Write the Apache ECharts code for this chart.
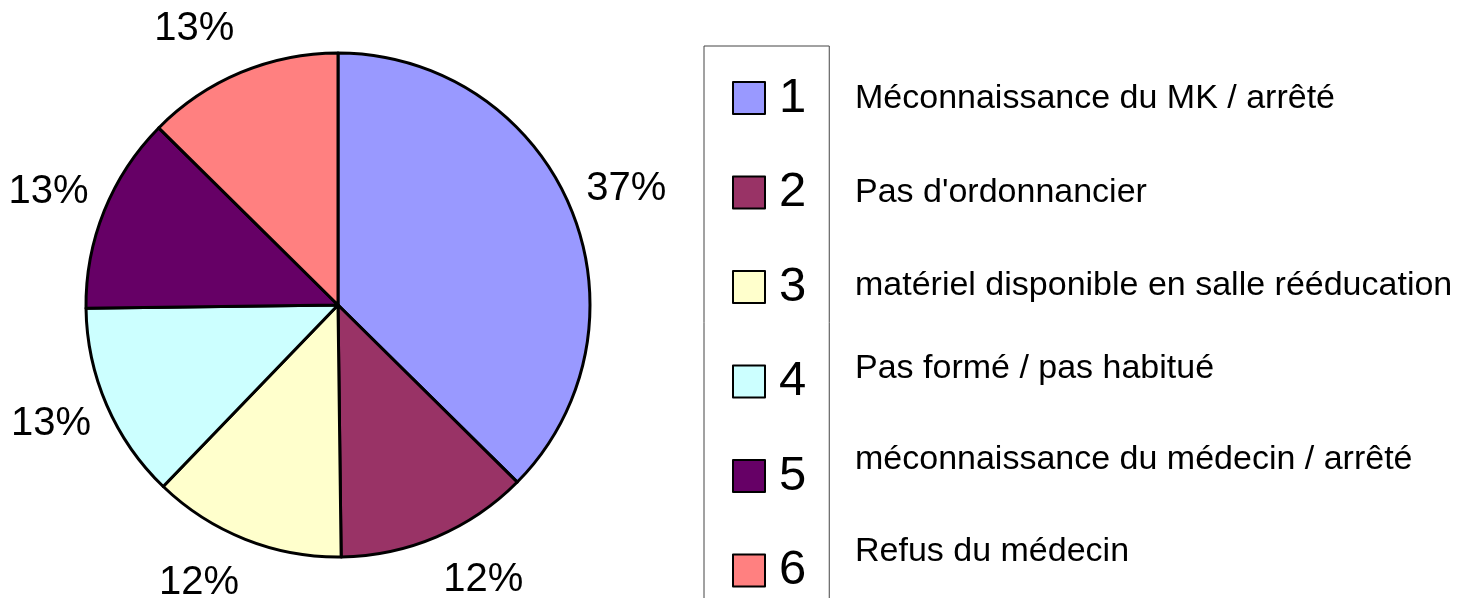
<!DOCTYPE html>
<html>
<head>
<meta charset="UTF-8">
<title>Camembert</title>
<script src="https://cdn.jsdelivr.net/npm/echarts@6/dist/echarts.min.js"></script>
<style>
	* {
		margin: 0;
		padding: 0;
	}
	#main {
		width: 1481px;
		height: 598px;
		background: #fff;
	}
</style>
</head>
<body>
<div id="main"></div>
<script>
	// categories (legend numbers), slice values and the descriptions next to the legend
	var categories = ['1', '2', '3', '4', '5', '6'];
	var values = [37.4, 12.4, 12.4, 12.6, 12.6, 12.6];
	var colors = ['#9999FF', '#993366', '#FFFFCC', '#CCFFFF', '#660066', '#FF8080'];
	var descriptions = [
		'Méconnaissance du MK / arrêté',
		'Pas d\'ordonnancier',
		'matériel disponible en salle rééducation',
		'Pas formé / pas habitué',
		'méconnaissance du médecin / arrêté',
		'Refus du médecin'
	];

	var FONT = "'Liberation Sans', Arial, sans-serif";
	var pieCenter = [338, 305];
	var pieRadius = 252;
	// vertical centre of each description line
	var descY = [98.5, 192.5, 285.5, 368.5, 459.5, 551.5];

	// mid angle of every slice, measured clockwise from 12 o'clock
	var total = 0;
	values.forEach(function(v) { total += v; });
	var midAngles = [];
	var acc = 0;
	values.forEach(function(v) {
		midAngles.push((acc + v / 2) / total * 2 * Math.PI);
		acc += v;
	});

	var myChart = echarts.init(document.getElementById('main'));

	var option = {
		backgroundColor: '#fff',
		animation: false,
		color: colors,
		legend: {
			orient: 'vertical',
			left: 704,
			top: 46,
			height: 580,
			padding: [27, 23, 30, 28],
			itemWidth: 32,
			itemHeight: 32,
			itemGap: 44.5,
			icon: 'rect',
			borderColor: '#444',
			borderWidth: 1,
			selectedMode: false,
			itemStyle: {
				borderColor: '#000',
				borderWidth: 2
			},
			textStyle: {
				fontSize: 49,
				lineHeight: 50,
				fontFamily: FONT,
				color: '#000',
				padding: [0, 0, 0, 9]
			},
			data: categories
		},
		graphic: descriptions.map(function(t, i) {
			return {
				type: 'text',
				x: 855,
				y: descY[i],
				style: {
					text: t,
					fontSize: 34,
					fontFamily: FONT,
					fill: '#000',
					align: 'left',
					verticalAlign: 'middle'
				}
			};
		}),
		series: [{
			type: 'pie',
			center: pieCenter,
			radius: pieRadius,
			startAngle: 90,
			clockwise: true,
			percentPrecision: 0,
			avoidLabelOverlap: false,
			itemStyle: {
				borderColor: '#000',
				borderWidth: 3
			},
			emphasis: {
				scale: false
			},
			label: {
				show: true,
				position: 'outside',
				formatter: '{d}%',
				fontSize: 40,
				lineHeight: 30,
				fontFamily: FONT,
				color: '#000'
			},
			labelLine: {
				show: false
			},
			// nearest corner of each label sits just outside the slice, on its middle direction
			labelLayout: function(p) {
				var a = midAngles[p.dataIndex];
				var s = Math.sin(a), c = Math.cos(a);
				var dx = pieRadius + 17;
				var dy = pieRadius + 5 + 30 * c * c;
				return {
					x: pieCenter[0] + dx * s,
					y: pieCenter[1] - dy * c,
					align: s >= 0 ? 'left' : 'right',
					verticalAlign: c >= 0 ? 'bottom' : 'top'
				};
			},
			data: categories.map(function(n, i) {
				return { name: n, value: values[i] };
			})
		}]
	};
	myChart.setOption(option);
</script>
</body>
</html>
